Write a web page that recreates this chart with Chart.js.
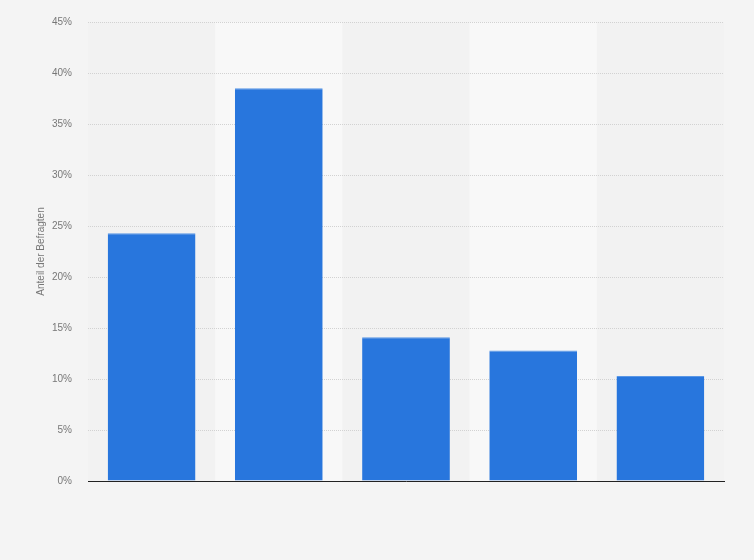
<!DOCTYPE html>
<html>
<head>
<meta charset="utf-8">
<script src="https://cdn.jsdelivr.net/npm/chart.js@4/dist/chart.umd.min.js"></script>
<style>
  html, body { margin: 0; padding: 0; background: #f4f4f4; }
  #wrap { width: 754px; height: 560px; }
</style>
</head>
<body>
<div id="wrap"><canvas id="myChart" width="754" height="560"></canvas></div>
<script>
// data (no category labels are shown)
const categories = ["", "", "", "", ""];
const shares = [24.3, 38.5, 14.1, 12.8, 10.3];
const yTicks = [0, 5, 10, 15, 20, 25, 30, 35, 40, 45];

// alternate light column bands behind the bars
const bandPlugin = {
  id: "bands",
  beforeDraw(chart) {
    const { ctx, chartArea, scales } = chart;
    const x = scales.x;
    const step = x.getPixelForValue(1) - x.getPixelForValue(0);
    ctx.save();
    categories.forEach((c, i) => {
      const cx = x.getPixelForValue(i);
      ctx.fillStyle = i % 2 === 1 ? "#f8f8f8" : "#f2f2f2";
      ctx.fillRect(cx - step / 2, chartArea.top, step, chartArea.bottom - chartArea.top);
    });
    ctx.restore();
  }
};

const ctx = document.getElementById("myChart").getContext("2d");
const myChart = new Chart(ctx, {
  type: "bar",
  data: {
    labels: categories,
    datasets: [
      {
        label: "Anteil der Befragten",
        data: shares,
        backgroundColor: "#2876dd",
        borderColor: "#5a97e6",
        borderWidth: { top: 1, left: 0, right: 0, bottom: 0 },
        categoryPercentage: 0.69,
        barPercentage: 1,
      },
    ],
  },
  options: {
    responsive: false,
    animation: false,
    layout: { padding: { left: 0, right: 30, top: 10, bottom: 0 } },
    plugins: {
      legend: { display: false },
      tooltip: { enabled: false },
    },
    scales: {
      x: {
        ticks: { display: false },
        grid: { display: false },
        border: { display: true, color: "#222", width: 1 },
        afterFit(s) { s.height = 79; },
      },
      y: {
        min: 0,
        max: 45,
        afterBuildTicks(s) { s.ticks = yTicks.map(v => ({ value: v })); },
        ticks: {
          color: "#777",
          font: { family: "Arial, 'Liberation Sans', sans-serif", size: 10 },
          padding: 16,
          callback: v => v + "%",
        },
        grid: { color: "#d2d2d2", drawTicks: false },
        border: { display: false, dash: [1, 1] },
        title: {
          display: true,
          text: "Anteil der Befragten",
          color: "#777",
          padding: { top: 35, bottom: 0 },
          font: { family: "Arial, 'Liberation Sans', sans-serif", size: 10 },
        },
        afterFit(s) { s.width = 88; },
      },
    },
  },
  plugins: [bandPlugin],
});
</script>
</body>
</html>
